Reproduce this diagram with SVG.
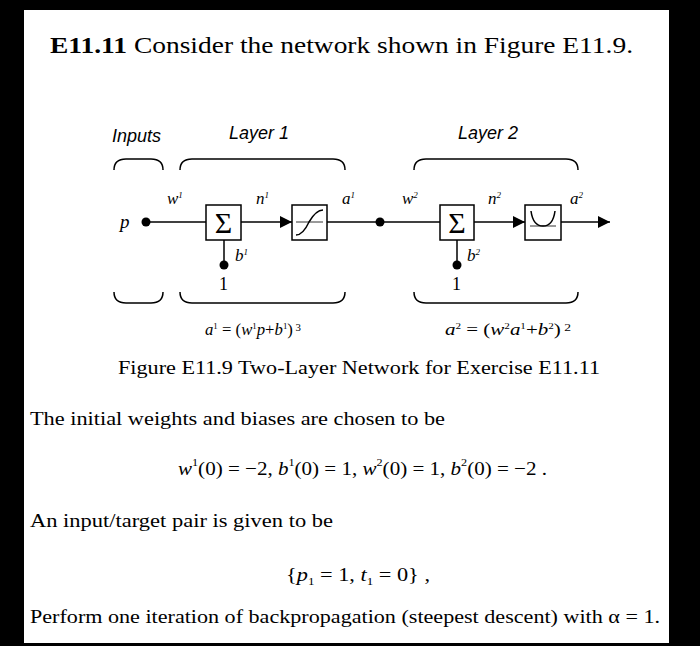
<svg xmlns="http://www.w3.org/2000/svg" width="700" height="646" viewBox="0 0 700 646">
<defs>
<style>
.s{font-family:"Liberation Serif","DejaVu Serif",serif;fill:#000}
.i{font-style:italic}
.h{font-family:"Liberation Sans",Arial,sans-serif;font-style:italic;font-size:18px}
.ln{stroke:#000;stroke-width:1.5;fill:none}
.bx{stroke:#000;stroke-width:1.5;fill:#fff}
</style>
<marker id="ah" markerWidth="12" markerHeight="12" refX="12" refY="6" orient="auto" markerUnits="userSpaceOnUse"><path d="M0,0 L12,6 L0,12 Z" fill="#000"/></marker>
</defs>
<rect width="700" height="646" fill="#000"/>
<rect x="24" y="10" width="645" height="633" fill="#fff"/>
<text x="50" y="53" class="s" font-size="23" textLength="583" lengthAdjust="spacingAndGlyphs"><tspan font-weight="bold">E11.11</tspan>  Consider the network shown in Figure E11.9.</text>

<g id="labels">
<text x="112" y="142" class="h">Inputs</text>
<text x="229" y="139" class="h">Layer 1</text>
<text x="458" y="139" class="h">Layer  2</text>
</g>
<g id="braces" class="ln">
<path d="M114,170 Q114,159 126,159 L151,159 Q163,159 163,170"/>
<path d="M180,170 Q180,159 192,159 L333,159 Q345,159 345,170"/>
<path d="M414,170 Q414,159 426,159 L566,159 Q578,159 578,170"/>
<path d="M114,292 Q114,303 126,303 L151,303 Q163,303 163,292"/>
<path d="M180,292 Q180,303 192,303 L333,303 Q345,303 345,292"/>
<path d="M414,292 Q414,303 426,303 L566,303 Q578,303 578,292"/>
</g>
<g id="connectors" class="ln">
<line x1="146" y1="222" x2="206" y2="222"/>
<line x1="241" y1="222" x2="292" y2="222" marker-end="url(#ah)"/>
<line x1="327" y1="222" x2="440" y2="222"/>
<line x1="474" y1="222" x2="525" y2="222" marker-end="url(#ah)"/>
<line x1="561" y1="222" x2="610" y2="222" marker-end="url(#ah)"/>
<line x1="224" y1="240" x2="224" y2="265"/>
<line x1="457" y1="240" x2="457" y2="265"/>
</g>
<g id="input"><circle cx="146" cy="222" r="4.5"/><text x="120" y="228" class="s i" font-size="19">p</text></g>
<g id="sum1"><rect x="206" y="205" width="35" height="35" class="bx"/><text x="223.5" y="233" class="s" font-size="30" text-anchor="middle">Σ</text></g>
<g id="bias1"><circle cx="224" cy="265" r="4.5"/><text x="219" y="290" class="s" font-size="18">1</text><text x="235" y="261" class="s i" font-size="17">b<tspan font-size="9" dy="-6">1</tspan></text></g>
<g id="f1"><rect x="292" y="205" width="35" height="35" class="bx"/><path d="M296,235 Q303,235 309,222 Q316,210 323,210" class="ln"/><line x1="296" y1="222" x2="323" y2="222" stroke="#000" stroke-width="0.8"/></g>
<g id="node2"><circle cx="380" cy="222" r="4.5"/></g>
<g id="sum2"><rect x="440" y="205" width="34" height="35" class="bx"/><text x="457" y="233" class="s" font-size="30" text-anchor="middle">Σ</text></g>
<g id="bias2"><circle cx="457" cy="265" r="4.5"/><text x="452" y="290" class="s" font-size="18">1</text><text x="467" y="261" class="s i" font-size="17">b<tspan font-size="9" dy="-6">2</tspan></text></g>
<g id="f2"><rect x="525" y="205" width="36" height="35" class="bx"/><line x1="530" y1="226" x2="556" y2="226" stroke="#000" stroke-width="0.8"/><path d="M531,211 Q533,226 543,226 Q553,226 555,211" class="ln"/></g>
<g id="wlabels" class="s i" font-size="17">
<text x="167" y="204">w<tspan font-size="9" dy="-6">1</tspan></text>
<text x="256" y="204">n<tspan font-size="9" dy="-6">1</tspan></text>
<text x="342" y="204">a<tspan font-size="9" dy="-6">1</tspan></text>
<text x="402" y="204">w<tspan font-size="9" dy="-6">2</tspan></text>
<text x="488" y="204">n<tspan font-size="9" dy="-6">2</tspan></text>
<text x="570" y="204">a<tspan font-size="9" dy="-6">2</tspan></text>
</g>
<g id="eqs" class="s" font-size="17">
<text x="205" y="335" textLength="96" lengthAdjust="spacingAndGlyphs"><tspan class="i">a</tspan><tspan font-size="9" dy="-6">1</tspan><tspan dy="6"> = (</tspan><tspan class="i">w</tspan><tspan font-size="9" dy="-6">1</tspan><tspan class="i" dy="6">p</tspan>+<tspan class="i">b</tspan><tspan font-size="9" dy="-6">1</tspan><tspan dy="6">)</tspan><tspan font-size="11" dy="-4"> 3</tspan></text>
<text x="445" y="335" textLength="126" lengthAdjust="spacingAndGlyphs"><tspan class="i">a</tspan><tspan font-size="9" dy="-6">2</tspan><tspan dy="6"> = (</tspan><tspan class="i">w</tspan><tspan font-size="9" dy="-6">2</tspan><tspan class="i" dy="6">a</tspan><tspan font-size="9" dy="-6">1</tspan><tspan dy="6">+</tspan><tspan class="i">b</tspan><tspan font-size="9" dy="-6">2</tspan><tspan dy="6">)</tspan><tspan font-size="11" dy="-4"> 2</tspan></text>
</g>
<text x="118" y="374" class="s" font-size="19.5" textLength="482" lengthAdjust="spacingAndGlyphs">Figure E11.9 Two-Layer Network for Exercise E11.11</text>
<text x="30" y="425" class="s" font-size="19.5" textLength="415" lengthAdjust="spacingAndGlyphs">The initial weights and biases are chosen to be</text>
<text x="178" y="475" class="s" font-size="19" textLength="369" lengthAdjust="spacingAndGlyphs"><tspan class="i">w</tspan><tspan font-size="11" dy="-9">1</tspan><tspan dy="9">(0) = −2, </tspan><tspan class="i">b</tspan><tspan font-size="11" dy="-9">1</tspan><tspan dy="9">(0) = 1, </tspan><tspan class="i">w</tspan><tspan font-size="11" dy="-9">2</tspan><tspan dy="9">(0) = 1, </tspan><tspan class="i">b</tspan><tspan font-size="11" dy="-9">2</tspan><tspan dy="9">(0) = −2 .</tspan></text>
<text x="30" y="527" class="s" font-size="19.5" textLength="303" lengthAdjust="spacingAndGlyphs">An input/target pair is given to be</text>
<text x="286" y="581" class="s" font-size="19" textLength="144" lengthAdjust="spacingAndGlyphs">{<tspan class="i">p</tspan><tspan font-size="11" dy="4">1</tspan><tspan dy="-4"> = 1, </tspan><tspan class="i">t</tspan><tspan font-size="11" dy="4">1</tspan><tspan dy="-4"> = 0} ,</tspan></text>
<text x="30" y="623" class="s" font-size="19.5" textLength="630" lengthAdjust="spacingAndGlyphs">Perform one iteration of backpropagation (steepest descent) with α = 1.</text>
</svg>
